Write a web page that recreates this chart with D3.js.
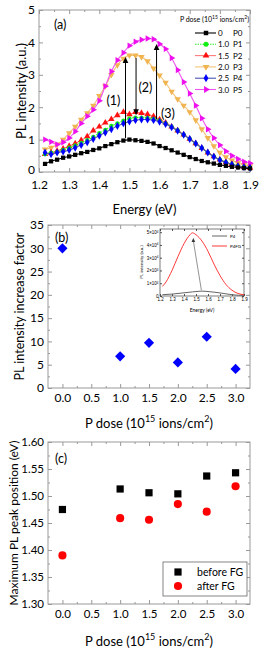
<!DOCTYPE html>
<html><head><meta charset="utf-8">
<script src="https://cdn.jsdelivr.net/npm/d3@7"></script>
<style>
body{margin:0;background:#fff;}
svg{display:block;font-family:Lato,"Open Sans",sans-serif;}
</style></head><body>
<svg id="c" width="263" height="652"></svg>
<script>
// ---------- data ----------
const energy = [1.22,1.24,1.26,1.28,1.30,1.32,1.34,1.36,1.38,1.40,1.42,1.44,1.46,1.48,1.50,1.52,1.54,1.56,1.58,1.60,1.62,1.64,1.66,1.68,1.70,1.72,1.74,1.76,1.78,1.80,1.82,1.84,1.86,1.88,1.90];
const pl_P0 = [0.25,0.33,0.38,0.44,0.48,0.53,0.58,0.62,0.68,0.73,0.80,0.86,0.92,0.97,1.00,0.98,0.96,0.93,0.88,0.80,0.74,0.67,0.60,0.53,0.46,0.40,0.34,0.30,0.26,0.22,0.19,0.16,0.14,0.12,0.11];
const pl_P1 = [0.55,0.60,0.62,0.68,0.75,0.82,0.90,0.98,1.08,1.20,1.30,1.42,1.50,1.58,1.65,1.68,1.68,1.67,1.64,1.58,1.50,1.40,1.28,1.15,1.02,0.88,0.74,0.60,0.48,0.38,0.30,0.24,0.19,0.16,0.13];
const pl_P2 = [0.55,0.60,0.65,0.72,0.80,0.88,0.98,1.10,1.28,1.40,1.52,1.63,1.75,1.85,1.78,1.85,1.82,1.78,1.72,1.62,1.52,1.40,1.28,1.15,1.02,0.88,0.74,0.60,0.48,0.38,0.30,0.24,0.19,0.16,0.13];
const pl_P3 = [0.70,0.75,0.85,1.00,1.20,1.40,1.62,1.82,2.05,2.35,2.65,3.00,3.30,3.50,3.60,3.60,3.55,3.42,3.20,2.98,2.76,2.48,2.25,2.05,1.85,1.60,1.32,1.05,0.80,0.60,0.46,0.36,0.28,0.22,0.18];
const pl_P4 = [0.60,0.55,0.60,0.63,0.68,0.75,0.83,0.92,1.02,1.12,1.22,1.32,1.42,1.50,1.56,1.60,1.62,1.62,1.60,1.55,1.48,1.38,1.27,1.15,1.02,0.88,0.74,0.60,0.47,0.37,0.29,0.23,0.18,0.15,0.13];
const pl_P5 = [1.00,0.93,0.85,0.92,1.05,1.25,1.50,1.72,1.92,2.20,2.65,3.10,3.45,3.68,3.90,4.02,4.08,4.12,4.10,3.95,3.80,3.52,3.15,2.78,2.42,2.05,1.66,1.32,1.05,0.83,0.64,0.50,0.40,0.32,0.27];
const seriesNames = ["0","1.0","1.5","2.0","2.5","3.0"];
const seriesIds = ["P0","P1","P2","P3","P4","P5"];
const energyTicks = [1.2,1.3,1.4,1.5,1.6,1.7,1.8,1.9];
const intensityTicks = [0,1,2,3,4,5];
// arrows in (a): energy, start, end
const arrowE = [1.487,1.522,1.59];
const arrowFrom = [1.05,3.52,1.62];
const arrowTo = [3.55,1.75,3.95];
const arrowLabels = ["(1)","(2)","(3)"];
const arrowLabelE = [1.447,1.553,1.628];
const arrowLabelV = [2.2,2.6,1.8];

const doses = [0,1.0,1.5,2.0,2.5,3.0];
const doseTicks = [0,0.5,1.0,1.5,2.0,2.5,3.0];
const increaseFactor = [30,6.8,9.7,5.5,11.0,4.1];
const factorTicks = [0,5,10,15,20,25,30,35];

const insetEnergy = [1.22,1.25,1.30,1.35,1.40,1.45,1.47,1.50,1.55,1.60,1.65,1.70,1.75,1.80,1.85,1.90];
const insetP4FG = [0.75,1.1,2.0,3.1,4.1,4.8,4.95,4.8,4.3,3.5,2.5,1.6,0.9,0.45,0.2,0.1];
const insetP4 = [0.10,0.12,0.15,0.20,0.25,0.30,0.32,0.35,0.38,0.35,0.30,0.24,0.17,0.10,0.06,0.05];
const insetYTicks = [0,1,2,3,4,5];

const peakBefore = [1.475,1.513,1.506,1.504,1.537,1.543];
const peakAfter = [1.39,1.459,1.456,1.485,1.471,1.518];
const peakTicks = [1.30,1.35,1.40,1.45,1.50,1.55,1.60];

// ---------- styles ----------
const lineColors = ["#000000","#33ee33","#ff7a7a","#f3c47a","#4a55b0","#ee55ee"];
const markColors = ["#000000","#11ee11","#ff1111","#f0b450","#0000ff","#ee11ee"];
const markTypes = [d3.symbolSquare,d3.symbolCircle,d3.symbolTriangle,d3.symbolTriangle,d3.symbolDiamond,d3.symbolTriangle];
const markRot = [0,0,0,180,0,90];
const frameColor = "#999";

const svg = d3.select("#c");
const L = 48, R = 250, LA = 39;

function frame(g, x, y, xTicks, xMinor, yTicks, yMinor, xFmt, yFmt, fs, xPad) {
  const [x0,x1] = x.range(), [y0,y1] = y.range();
  const style = sel => { sel.select(".domain").remove(); sel.selectAll("line").attr("stroke",frameColor); sel.selectAll("text").attr("fill","#000").style("font-size",fs+"px").style("font-family","Lato,sans-serif"); };
  g.append("g").attr("transform",`translate(0,${y0})`).call(d3.axisBottom(x).tickValues(xTicks).tickSizeInner(-4).tickSizeOuter(0).tickPadding(xPad).tickFormat(xFmt)).call(style);
  g.append("g").attr("transform",`translate(0,${y0})`).call(d3.axisBottom(x).tickValues(xMinor).tickSizeInner(-2).tickSizeOuter(0).tickFormat("")).call(style);
  g.append("g").attr("transform",`translate(0,${y1})`).call(d3.axisTop(x).tickValues(xTicks).tickSizeInner(-4).tickSizeOuter(0).tickFormat("")).call(style);
  g.append("g").attr("transform",`translate(0,${y1})`).call(d3.axisTop(x).tickValues(xMinor).tickSizeInner(-2).tickSizeOuter(0).tickFormat("")).call(style);
  const yl = g.append("g").attr("transform",`translate(${x0},0)`).call(d3.axisLeft(y).tickValues(yTicks).tickSizeInner(-4).tickSizeOuter(0).tickPadding(4).tickFormat(yFmt)).call(style);
  g.append("g").attr("transform",`translate(${x0},0)`).call(d3.axisLeft(y).tickValues(yMinor).tickSizeInner(-2).tickSizeOuter(0).tickFormat("")).call(style);
  g.append("g").attr("transform",`translate(${x1},0)`).call(d3.axisRight(y).tickValues(yTicks).tickSizeInner(-4).tickSizeOuter(0).tickFormat("")).call(style);
  g.append("g").attr("transform",`translate(${x1},0)`).call(d3.axisRight(y).tickValues(yMinor).tickSizeInner(-2).tickSizeOuter(0).tickFormat("")).call(style);
  g.append("rect").attr("x",x0).attr("y",y1).attr("width",x1-x0).attr("height",y0-y1).attr("fill","none").attr("stroke",frameColor).attr("stroke-width",1);
  return yl;
}
function mids(t){ const r=[]; for(let i=0;i<t.length-1;i++) r.push((t[i]+t[i+1])/2); return r; }

// ---------- panel (a) ----------
const gA = svg.append("g");
const xA = d3.scaleLinear().domain([1.2,1.9]).range([LA,R]);
const yA = d3.scaleLinear().domain([0,5]).range([172,10]);
const ylA = frame(gA, xA, yA, energyTicks, mids(energyTicks), intensityTicks, mids(intensityTicks), d3.format(".1f"), d3.format("d"), 12, 8);
ylA.selectAll(".tick text").filter(d=>d===0).attr("y",-2);
const seriesA = [pl_P0,pl_P1,pl_P2,pl_P3,pl_P4,pl_P5];
const lineA = d3.line().x((d,i)=>xA(energy[i])).y(d=>yA(d)).curve(d3.curveMonotoneX);
const drawOrder = [3,5,2,1,4,0];
drawOrder.forEach(k=>{
  gA.append("path").datum(seriesA[k]).attr("d",lineA).attr("fill","none").attr("stroke",lineColors[k]).attr("stroke-width",1.1).attr("stroke-dasharray",k===1?"1.5,1":null);
  gA.append("g").selectAll("path").data(seriesA[k]).join("path")
    .attr("d",d3.symbol().type(markTypes[k]).size(k===1?15:18))
    .attr("transform",(d,i)=>`translate(${xA(energy[i])},${yA(d)}) rotate(${markRot[k]})`)
    .attr("fill",markColors[k]);
});
// arrows
arrowE.forEach((e,i)=>{
  const x = xA(e), ya = yA(arrowFrom[i]), yb = yA(arrowTo[i]);
  const dir = yb < ya ? 1 : -1;
  gA.append("line").attr("x1",x).attr("x2",x).attr("y1",ya).attr("y2",yb+dir*5).attr("stroke","#000").attr("stroke-width",1);
  gA.append("path").attr("d",`M${x},${yb} L${x-2.8},${yb+dir*6} L${x+2.8},${yb+dir*6} Z`).attr("fill","#000");
  gA.append("text").attr("x",xA(arrowLabelE[i])).attr("y",yA(arrowLabelV[i])).attr("text-anchor","middle").attr("dominant-baseline","central").style("font-size","12.5px").text(arrowLabels[i]);
});
gA.append("text").attr("x",54).attr("y",24).attr("dominant-baseline","central").style("font-size","12.5px").text("(a)");
// legend
const legA = gA.append("g");
const legTitle = legA.append("text").attr("x",249).attr("y",19).attr("text-anchor","end").attr("dominant-baseline","central").style("font-size","7px");
legTitle.append("tspan").text("P dose (10");
legTitle.append("tspan").attr("dy",-2.5).style("font-size","5px").text("15");
legTitle.append("tspan").attr("dy",2.5).text(" ions/cm");
legTitle.append("tspan").attr("dy",-2.5).style("font-size","5px").text("2");
legTitle.append("tspan").attr("dy",2.5).text(")");
seriesNames.forEach((n,k)=>{
  const y = 33 + k*11.3;
  legA.append("line").attr("x1",195).attr("x2",216).attr("y1",y).attr("y2",y).attr("stroke",lineColors[k]).attr("stroke-width",1.1).attr("stroke-dasharray",k===1?"1.5,1":null);
  legA.append("path").attr("d",d3.symbol().type(markTypes[k]).size(20)).attr("transform",`translate(206,${y}) rotate(${markRot[k]})`).attr("fill",markColors[k]);
  legA.append("text").attr("x",218).attr("y",y).attr("dominant-baseline","central").style("font-size","8px").text(n);
  legA.append("text").attr("x",233).attr("y",y).attr("dominant-baseline","central").style("font-size","8px").text(seriesIds[k]);
});
gA.append("text").attr("x",(LA+R)/2).attr("y",209).attr("text-anchor","middle").attr("dominant-baseline","central").style("font-size","13px").text("Energy (eV)");
gA.append("text").attr("transform",`translate(21,${(172+10)/2}) rotate(-90)`).attr("text-anchor","middle").attr("dominant-baseline","central").style("font-size","13px").text("PL intensity (a.u.)");

function doseTitle(g, y) {
  const t = g.append("text").attr("x",(L+R)/2).attr("y",y).attr("text-anchor","middle").attr("dominant-baseline","central").style("font-size","13px");
  t.append("tspan").text("P dose (10");
  t.append("tspan").attr("dy",-5).style("font-size","9px").text("15");
  t.append("tspan").attr("dy",5).text(" ions/cm");
  t.append("tspan").attr("dy",-5).style("font-size","9px").text("2");
  t.append("tspan").attr("dy",5).text(")");
}

// ---------- panel (b) ----------
const gB = svg.append("g");
const xB = d3.scaleLinear().domain([-0.25,3.25]).range([L,R]);
const yB = d3.scaleLinear().domain([0,35]).range([388,225]);
frame(gB, xB, yB, doseTicks, mids(doseTicks), factorTicks, mids(factorTicks), d3.format(".1f"), d3.format("d"), 12, 5.5);
gB.append("g").selectAll("path").data(increaseFactor).join("path")
  .attr("d",d3.symbol().type(d3.symbolSquare).size(52))
  .attr("transform",(d,i)=>`translate(${xB(doses[i])},${yB(d)}) rotate(45)`).attr("fill","#0000ff");
gB.append("text").attr("x",55).attr("y",237).attr("dominant-baseline","central").style("font-size","12.5px").text("(b)");
doseTitle(gB, 423);
gB.append("text").attr("transform",`translate(19,${(388+225)/2}) rotate(-90)`).attr("text-anchor","middle").attr("dominant-baseline","central").style("font-size","12.5px").text("PL intensity increase factor");

// inset
const gI = gB.append("g");
const xI = d3.scaleLinear().domain([1.2,1.9]).range([160,244]);
const yI = d3.scaleLinear().domain([0,5.25]).range([296,229]);
gI.append("rect").attr("x",160).attr("y",229).attr("width",84).attr("height",67).attr("fill","#fff");
{
  const st = sel => { sel.select(".domain").remove(); sel.selectAll("line").attr("stroke","#555"); sel.selectAll("text").style("font-size","4.5px").attr("fill","#000"); };
  gI.append("g").attr("transform","translate(0,296)").call(d3.axisBottom(xI).tickValues(energyTicks).tickSizeInner(-2).tickSizeOuter(0).tickPadding(1.5).tickFormat(d3.format(".1f"))).call(st);
  gI.append("g").attr("transform","translate(0,229)").call(d3.axisTop(xI).tickValues(energyTicks).tickSizeInner(-2).tickSizeOuter(0).tickFormat("")).call(st);
  const yl = gI.append("g").attr("transform","translate(160,0)").call(d3.axisLeft(yI).tickValues(insetYTicks).tickSizeInner(-2).tickSizeOuter(0).tickPadding(1.5).tickFormat(d=> d===0?"0":d+"×10")).call(st);
  yl.selectAll("text").filter(d=>d!==0).append("tspan").attr("dy",-1.5).style("font-size","3px").text("4");
  gI.append("g").attr("transform","translate(244,0)").call(d3.axisRight(yI).tickValues(insetYTicks).tickSizeInner(-2).tickSizeOuter(0).tickFormat("")).call(st);
  gI.append("rect").attr("x",160).attr("y",229).attr("width",84).attr("height",67).attr("fill","none").attr("stroke","#444").attr("stroke-width",0.7);
  const li = arr => d3.line().x((d,i)=>xI(insetEnergy[i])).y(d=>yI(d)).curve(d3.curveMonotoneX)(arr);
  gI.append("path").attr("d",li(insetP4)).attr("fill","none").attr("stroke","#666").attr("stroke-width",1);
  gI.append("path").attr("d",li(insetP4FG)).attr("fill","none").attr("stroke","#ff2222").attr("stroke-width",0.9);
  const ax0 = xI(1.545), ay0 = yI(0.45), ax1 = xI(1.478), ay1 = yI(4.55);
  gI.append("line").attr("x1",ax0).attr("y1",ay0).attr("x2",ax1).attr("y2",ay1+3).attr("stroke","#777").attr("stroke-width",0.8);
  gI.append("path").attr("d",`M${ax1},${ay1} l-1.8,4 l3.6,0 Z`).attr("fill","#333");
  gI.append("line").attr("x1",212).attr("x2",227).attr("y1",236).attr("y2",236).attr("stroke","#666").attr("stroke-width",1);
  gI.append("line").attr("x1",212).attr("x2",227).attr("y1",246).attr("y2",246).attr("stroke","#ff2222").attr("stroke-width",0.9);
  gI.append("text").attr("x",230).attr("y",236).attr("dominant-baseline","central").style("font-size","4.5px").text("P4");
  gI.append("text").attr("x",230).attr("y",246).attr("dominant-baseline","central").style("font-size","4.5px").text("P4FG");
  gI.append("text").attr("x",202).attr("y",310).attr("text-anchor","middle").attr("dominant-baseline","central").style("font-size","5px").text("Energy (eV)");
  gI.append("text").attr("transform","translate(141,262) rotate(-90)").attr("text-anchor","middle").attr("dominant-baseline","central").style("font-size","4.5px").text("PL intensity (a.u.)");
}

// ---------- panel (c) ----------
const gC = svg.append("g");
const xC = d3.scaleLinear().domain([-0.25,3.25]).range([L,R]);
const yC = d3.scaleLinear().domain([1.30,1.60]).range([604,442]);
frame(gC, xC, yC, doseTicks, mids(doseTicks), peakTicks, mids(peakTicks), d3.format(".1f"), d3.format(".2f"), 11.5, 5.5);
gC.append("g").selectAll("path").data(peakBefore).join("path")
  .attr("d",d3.symbol().type(d3.symbolSquare).size(52))
  .attr("transform",(d,i)=>`translate(${xC(doses[i])},${yC(d)})`).attr("fill","#000");
gC.append("g").selectAll("path").data(peakAfter).join("path")
  .attr("d",d3.symbol().type(d3.symbolCircle).size(52))
  .attr("transform",(d,i)=>`translate(${xC(doses[i])},${yC(d)})`).attr("fill","#ff0000");
gC.append("text").attr("x",55).attr("y",458).attr("dominant-baseline","central").style("font-size","12.5px").text("(c)");
const legC = gC.append("g");
legC.append("rect").attr("x",163).attr("y",562).attr("width",84).attr("height",34).attr("fill","#fff").attr("stroke","#666").attr("stroke-width",0.8);
legC.append("path").attr("d",d3.symbol().type(d3.symbolSquare).size(52)).attr("transform","translate(178,572)").attr("fill","#000");
legC.append("path").attr("d",d3.symbol().type(d3.symbolCircle).size(52)).attr("transform","translate(178,586)").attr("fill","#ff0000");
legC.append("text").attr("x",197).attr("y",572).attr("dominant-baseline","central").style("font-size","10.5px").text("before FG");
legC.append("text").attr("x",197).attr("y",586).attr("dominant-baseline","central").style("font-size","10.5px").text("after FG");
doseTitle(gC, 641);
gC.append("text").attr("transform",`translate(13,${(604+442)/2}) rotate(-90)`).attr("text-anchor","middle").attr("dominant-baseline","central").style("font-size","12px").text("Maximum PL peak position (eV)");
</script>
</body></html>
